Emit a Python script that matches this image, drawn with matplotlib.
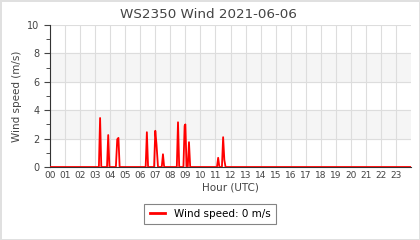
import matplotlib
matplotlib.use("Agg")
import matplotlib.pyplot as plt

# hours (UTC) and wind speed (m/s)
hours = [0.0, 3.25, 3.33, 3.41, 3.79, 3.87, 3.95, 4.38, 4.47, 4.55, 4.63,
         6.36, 6.44, 6.52, 6.92, 7.0, 7.08, 7.18, 7.43, 7.51, 7.59,
         8.43, 8.51, 8.59, 8.87, 8.95, 9.0, 9.08, 9.16, 9.24, 9.32,
         11.1, 11.18, 11.26, 11.43, 11.51, 11.59, 11.67, 24.0]
speed = [0, 0, 3.45, 0, 0, 2.25, 0, 0, 1.95, 2.05, 0,
         0, 2.45, 0, 0, 2.55, 1.6, 0, 0, 0.9, 0,
         0, 3.15, 0, 0, 2.9, 3.0, 0, 0, 1.75, 0,
         0, 0.65, 0, 0, 2.1, 0.5, 0, 0]
hour_labels = [f"{h:02d}" for h in range(24)]
current_speed = 0

fig = plt.figure(figsize=(4.2, 2.4), dpi=100, edgecolor="#e0e0e0", linewidth=1)
ax = fig.add_axes([50 / 420, 1 - 167 / 240, 361 / 420, 142 / 240])

ax.axhspan(2, 4, color="#f5f5f5", zorder=0)
ax.axhspan(6, 8, color="#f5f5f5", zorder=0)

ax.plot(hours, speed, color="#ff0000", linewidth=1.3, zorder=3,
        label=f"Wind speed: {current_speed} m/s")

ax.set_xlim(0, 24)
ax.set_ylim(0, 10)
ax.set_xticks(range(24))
ax.set_xticklabels(hour_labels)
ax.set_yticks(range(0, 11, 2))
ax.set_yticks(range(1, 10, 2), minor=True)
ax.grid(True, axis="x", color="#dddddd", linewidth=0.8)
ax.grid(True, axis="y", which="major", color="#dddddd", linewidth=0.8)
ax.set_axisbelow(True)

for s in ["top", "right"]:
    ax.spines[s].set_visible(False)
ax.spines["left"].set_color("#333333")
ax.spines["bottom"].set_color("#333333")
ax.tick_params(axis="x", length=0, pad=3, labelsize=6.5, colors="#444444")
ax.tick_params(axis="y", which="major", length=4, labelsize=7, colors="#444444")
ax.tick_params(axis="y", which="minor", length=3, colors="#333333")

ax.set_title("WS2350 Wind 2021-06-06", fontsize=9.7, color="#444444", pad=5, x=0.44)
ax.set_xlabel("Hour (UTC)", fontsize=7.5, color="#444444", labelpad=2)
ax.set_ylabel("Wind speed (m/s)", fontsize=7.5, color="#444444", labelpad=4)

leg = fig.legend(loc="center", bbox_to_anchor=(0.5, 0.108), fontsize=7.5,
                 frameon=True, fancybox=False, edgecolor="#666666",
                 handlelength=1.5, borderpad=0.5)
leg.get_frame().set_linewidth(0.8)
for line in leg.get_lines():
    line.set_linewidth(2)

fig.savefig("out.png", dpi=100)
